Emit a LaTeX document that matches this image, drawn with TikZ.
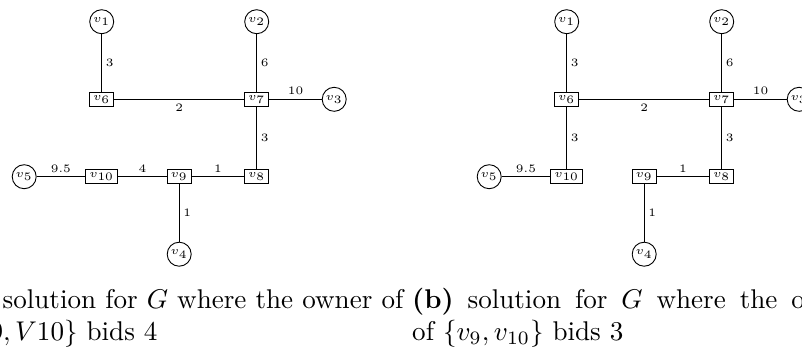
\documentclass[tikz,border=0pt]{standalone}
\usepackage{graphicx}
\usepackage{fix-cm}
\newcommand{\gtext}[1]{\scalebox{2.27}{\tiny #1}}
\newcommand{\captext}[1]{\scalebox{2.709}{\normalsize #1}}
\begin{document}
\begin{tikzpicture}[x=1pt,y=-1pt,
  vert/.style={circle,draw,line width=0.9pt,minimum size=24pt,inner sep=0pt},
  hub/.style={rectangle,draw,line width=0.9pt,inner xsep=3.6pt,inner ysep=2.8pt},
  wlbl/.style={inner sep=3.8pt},
  edge/.style={line width=0.9pt}]
\useasboundingbox (0,0) rectangle (802,349);
\clip (0,0) rectangle (802,349);
% ---------- graph (a) ----------
\node[vert] (a1) at (101.7,21.7) {\gtext{$v_1$}};
\node[vert] (a2) at (256.7,21.7) {\gtext{$v_2$}};
\node[vert] (a3) at (334.2,99.3) {\gtext{$v_3$}};
\node[vert] (a4) at (179.2,254.2) {\gtext{$v_4$}};
\node[vert] (a5) at (24.2,176.7) {\gtext{$v_5$}};
\node[hub] (a6) at (101.7,99.3) {\gtext{$v_6$}};
\node[hub] (a7) at (256.7,99.3) {\gtext{$v_7$}};
\node[hub] (a8) at (256.7,176.7) {\gtext{$v_8$}};
\node[hub] (a9) at (179.2,176.7) {\gtext{$v_9$}};
\node[hub] (a10) at (101.7,176.7) {\gtext{$v_{10}$}};
\draw[edge] (a1) -- node[wlbl,right] {\gtext{3}} (a6);
\draw[edge] (a2) -- node[wlbl,right] {\gtext{6}} (a7);
\draw[edge] (a6) -- node[wlbl,below] {\gtext{2}} (a7);
\draw[edge] (a7) -- node[wlbl,above] {\gtext{10}} (a3);
\draw[edge] (a7) -- node[wlbl,right] {\gtext{3}} (a8);
\draw[edge] (a5) -- node[wlbl,above] {\gtext{9.5}} (a10);
\draw[edge] (a10) -- node[wlbl,above] {\gtext{4}} (a9);
\draw[edge] (a9) -- node[wlbl,above] {\gtext{1}} (a8);
\draw[edge] (a9) -- node[wlbl,right] {\gtext{1}} (a4);
% ---------- graph (b) ----------
\node[vert] (b1) at (566.7,21.7) {\gtext{$v_1$}};
\node[vert] (b2) at (721.7,21.7) {\gtext{$v_2$}};
\node[vert] (b3) at (799.2,99.3) {\gtext{$v_3$}};
\node[vert] (b4) at (644.2,254.2) {\gtext{$v_4$}};
\node[vert] (b5) at (489.2,176.7) {\gtext{$v_5$}};
\node[hub] (b6) at (566.7,99.3) {\gtext{$v_6$}};
\node[hub] (b7) at (721.7,99.3) {\gtext{$v_7$}};
\node[hub] (b8) at (721.7,176.7) {\gtext{$v_8$}};
\node[hub] (b9) at (644.2,176.7) {\gtext{$v_9$}};
\node[hub] (b10) at (566.7,176.7) {\gtext{$v_{10}$}};
\draw[edge] (b1) -- node[wlbl,right] {\gtext{3}} (b6);
\draw[edge] (b2) -- node[wlbl,right] {\gtext{6}} (b7);
\draw[edge] (b6) -- node[wlbl,below] {\gtext{2}} (b7);
\draw[edge] (b7) -- node[wlbl,above] {\gtext{10}} (b3);
\draw[edge] (b7) -- node[wlbl,right] {\gtext{3}} (b8);
\draw[edge] (b6) -- node[wlbl,right] {\gtext{3}} (b10);
\draw[edge] (b5) -- node[wlbl,above] {\gtext{9.5}} (b10);
\draw[edge] (b9) -- node[wlbl,above] {\gtext{1}} (b8);
\draw[edge] (b9) -- node[wlbl,right] {\gtext{1}} (b4);
% ---------- captions ----------
\node[anchor=base west,inner sep=0pt] (capa) at (-46,308.3)
  {\captext{\parbox[t]{165.8pt}{\textbf{(a)} solution for $G$ where the owner of\linebreak $\{V9, V10\}$ bids 4}}};
\node[anchor=base west,inner sep=0pt] (capb) at (412,308.3)
  {\captext{\parbox[t]{165.8pt}{\textbf{(b)} solution for $G$ where the owner\linebreak of $\{v_9, v_{10}\}$ bids 3}}};
\end{tikzpicture}
\end{document}
